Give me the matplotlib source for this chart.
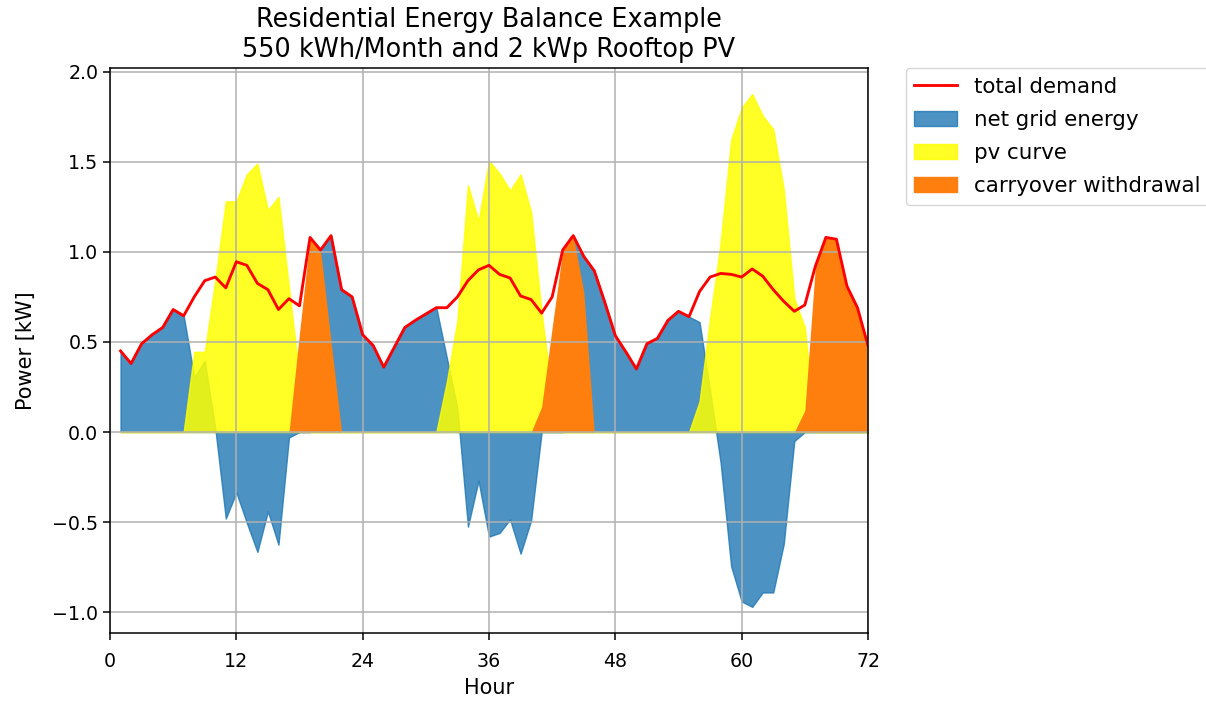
import matplotlib
matplotlib.use('Agg')
import matplotlib.pyplot as plt
import matplotlib.patches as mpatches
import numpy as np

hours = np.arange(1, 73)

# total demand, kW (hourly)
demand = [0.45, 0.38, 0.49, 0.54, 0.58, 0.68, 0.645, 0.75, 0.84, 0.86, 0.80, 0.945,
          0.925, 0.825, 0.79, 0.68, 0.74, 0.70, 1.08, 1.01, 1.09, 0.79, 0.75, 0.54,
          0.48, 0.36, 0.47, 0.58, 0.62, 0.655, 0.69, 0.69, 0.75, 0.84, 0.90, 0.925,
          0.875, 0.855, 0.755, 0.735, 0.66, 0.75, 1.01, 1.09, 0.975, 0.895, 0.72, 0.535,
          0.445, 0.35, 0.49, 0.52, 0.62, 0.67, 0.64, 0.78, 0.86, 0.88, 0.875, 0.86,
          0.905, 0.865, 0.79, 0.725, 0.67, 0.705, 0.92, 1.08, 1.07, 0.81, 0.69, 0.48]

# pv generation
pv = [0, 0, 0, 0, 0, 0, 0, 0.445, 0.445, 0.84, 1.28, 1.28,
      1.43, 1.49, 1.23, 1.305, 0.80, 0.30, 0, 0, 0, 0, 0, 0,
      0, 0, 0, 0, 0, 0, 0, 0.28, 0.62, 1.37, 1.17, 1.505,
      1.435, 1.34, 1.43, 1.22, 0.66, 0.20, 0, 0, 0, 0, 0, 0,
      0, 0, 0, 0, 0, 0, 0, 0.17, 0.63, 1.05, 1.62, 1.80,
      1.875, 1.755, 1.68, 1.345, 0.74, 0.58, 0, 0, 0, 0, 0, 0]

# net grid energy
grid = [0.45, 0.38, 0.49, 0.54, 0.58, 0.68, 0.645, 0.305, 0.395, 0.02, -0.48, -0.335,
        -0.505, -0.665, -0.44, -0.625, -0.03, 0, 0, 1.01, 1.09, 0.79, 0.75, 0.54,
        0.48, 0.36, 0.47, 0.58, 0.62, 0.655, 0.69, 0.41, 0.13, -0.525, -0.27, -0.58,
        -0.56, -0.485, -0.675, -0.49, 0, 0, 0, 1.09, 0.975, 0.895, 0.72, 0.535,
        0.445, 0.35, 0.49, 0.52, 0.62, 0.67, 0.64, 0.61, 0.23, -0.17, -0.745, -0.94,
        -0.97, -0.89, -0.89, -0.62, -0.05, 0, 0, 0, 0, 0, 0, 0]

# carryover withdrawal
carry = [0, 0, 0, 0, 0, 0, 0, 0, 0, 0, 0, 0,
         0, 0, 0, 0, 0, 0.55, 1.08, 1.01, 0.50, 0, 0, 0,
         0, 0, 0, 0, 0, 0, 0, 0, 0, 0, 0, 0,
         0, 0, 0, 0, 0.14, 0.58, 1.01, 1.09, 0.78, 0, 0, 0,
         0, 0, 0, 0, 0, 0, 0, 0, 0, 0, 0, 0,
         0, 0, 0, 0, 0, 0.12, 0.92, 1.08, 1.07, 0.81, 0.69, 0.48]

s = 1.37  # scale factor of the original rendering
yellow = '#ffff00'
orange = '#ff7f0e'

fig = plt.figure(figsize=(12.06, 7.01), dpi=100)
ax = fig.add_axes([110/1206, 1 - 633/701, 758/1206, 565/701])

ax.fill_between(hours, 0, grid, color='C0', alpha=0.8)
ax.fill_between(hours, 0, pv, color=yellow, alpha=0.85)
ax.fill_between(hours, 0, carry, color=orange, linewidth=0)
line, = ax.plot(hours, demand, color='red', lw=1.5*s)

ax.set_xlim(0, 72)
ax.set_ylim(-1.115, 2.02)
ax.set_xticks(range(0, 73, 12))
ax.grid(True, lw=0.8*s)
ax.tick_params(labelsize=10*s, length=3.5*s, width=0.8*s)
ax.tick_params(axis='x', pad=3.5*s + 4)
for sp in ax.spines.values():
    sp.set_linewidth(0.8*s)
ax.set_xlabel('Hour', fontsize=15, labelpad=5)
ax.set_ylabel('Power [kW]', fontsize=15, labelpad=12)
ax.set_title('Residential Energy Balance Example\n550 kWh/Month and 2 kWp Rooftop PV',
             fontsize=18.4, pad=8)

handles = [line,
           mpatches.Patch(color='C0', alpha=0.8),
           mpatches.Patch(color=yellow, alpha=0.85),
           mpatches.Patch(color=orange)]
labels = ['total demand', 'net grid energy', 'pv curve', 'carryover withdrawal']
ax.legend(handles, labels, loc='upper left', bbox_to_anchor=(1.05, 1.0),
          borderaxespad=0, fontsize=15.4, labelspacing=0.62)

fig.savefig('out.png', dpi=100)
